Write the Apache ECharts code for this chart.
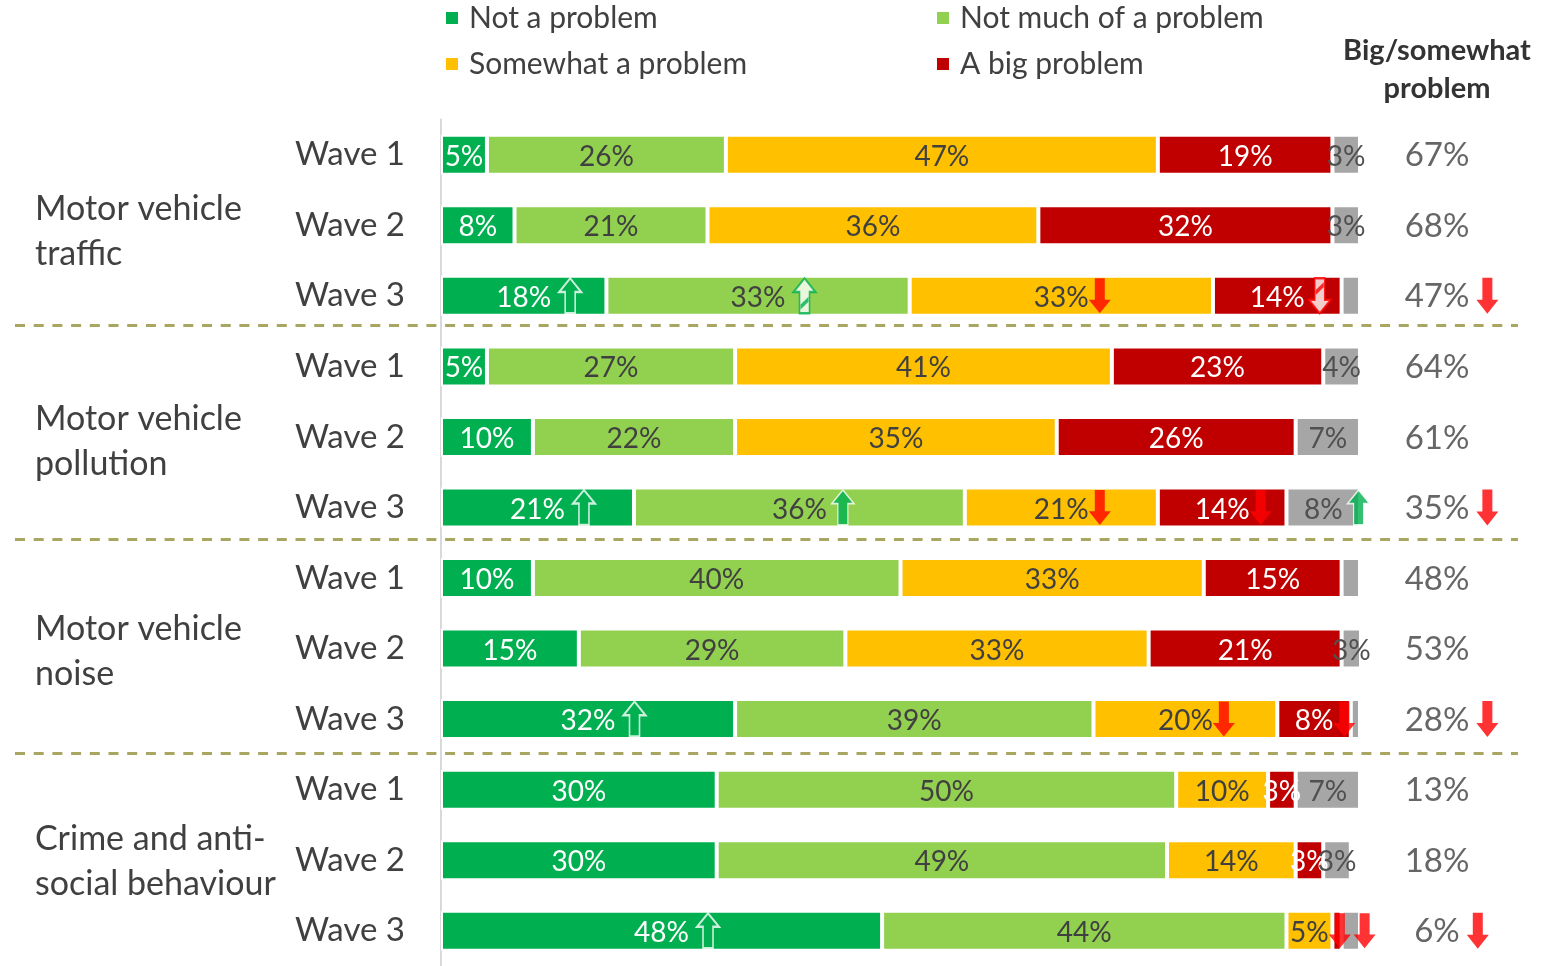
<!DOCTYPE html>
<html>
<head>
<meta charset="utf-8">
<title>Perceived problems by wave</title>
<script src="https://cdn.jsdelivr.net/npm/echarts@6/dist/echarts.min.js"></script>
<style>
  html, body { margin: 0; padding: 0; background: #fff; }
  #chart { width: 1544px; height: 966px; }
</style>
</head>
<body>
<div id="chart"></div>
<script>
// ---- data ---------------------------------------------------------------
const groups = ['Motor vehicle\ntraffic', 'Motor vehicle\npollution', 'Motor vehicle\nnoise', 'Crime and anti-\nsocial behaviour'];
const waves = ['Wave 1', 'Wave 2', 'Wave 3'];

// one entry per row: 3 waves for each group, top to bottom
const notAProblem   = [5, 8, 18,   5, 10, 21,   10, 15, 32,   30, 30, 48];
const notMuch       = [26, 21, 33, 27, 22, 36,  40, 29, 39,   50, 49, 44];
const somewhat      = [47, 36, 33, 41, 35, 21,  33, 33, 20,   10, 14, 5];
const bigProblem    = [19, 32, 14, 23, 26, 14,  15, 21, 8,    3, 3, 1];
const dontKnow      = [3, 3, 2,    4, 7, 8,     2, 3, 1,      7, 3, 2];
const bigOrSomewhat = [67, 68, 47, 64, 61, 35,  48, 53, 28,   13, 18, 6];

// significant changes at wave 3: [row, segment (0..4), marker kind]
const segmentChanges = [
  [2, 0, 'up'], [2, 1, 'upHatch'], [2, 2, 'down'], [2, 3, 'downHatch'],
  [5, 0, 'up'], [5, 1, 'upSolid'], [5, 2, 'down'], [5, 3, 'down'], [5, 4, 'upSolid'],
  [8, 0, 'up'], [8, 2, 'down'], [8, 3, 'down'],
  [11, 0, 'up'], [11, 2, 'down'], [11, 3, 'down']
];
const totalChanges = [null, null, 'down', null, null, 'down', null, null, 'down', null, null, 'down'];

const seriesNames = ['Not a problem', 'Not much of a problem', 'Somewhat a problem', 'A big problem', "Don't know"];
const segments = [notAProblem, notMuch, somewhat, bigProblem, dontKnow];

// ---- styling ------------------------------------------------------------
const FONT = 'Lato, "Liberation Sans", sans-serif';
const TEXT = '#404040';
const colors = ['#00B050', '#92D050', '#FFC000', '#C00000', '#A6A6A6'];
const labelColors = ['#ffffff', TEXT, TEXT, '#ffffff', '#505050'];
const BAR_LABEL_SIZE = 28;
const TOTAL_LABEL_SIZE = 33;

const GRID_LEFT = 441, GRID_TOP = 119.5, GRID_W = 919, GRID_H = 851;
const PX_PER_PCT = GRID_W / 100;

const rows = [];
groups.forEach(() => waves.forEach(w => rows.push(w)));

const measureCtx = document.createElement('canvas').getContext('2d');
function textWidth(str, size) {
  measureCtx.font = size + 'px ' + FONT;
  return measureCtx.measureText(str).width;
}

// block arrows drawn in a 22 x 36 box
const UP = 'path://M6,36L6,14L0,14L11,0L22,14L16,14L16,36Z';
const DOWN = 'path://M6,0L16,0L16,22L22,22L11,36L0,22L6,22Z';
// diagonal stripe laid over the shaft of a hatched arrow (same 22 x 36 box)
const UP_STRIPE = 'path://M0,0M22,36M7,27L15,19L15,24L7,32Z';
const DOWN_STRIPE = 'path://M0,0M22,36M7,12L15,4L15,9L7,17Z';
const ARROW_W = 22, ARROW_H = 35;
const arrowKinds = {
  up:        { symbol: UP,   gap: 8, itemStyle: { color: 'rgba(0,0,0,0)', borderColor: '#ffffff', borderWidth: 2 } },
  upHatch:   { symbol: UP,   gap: 8, itemStyle: { color: '#ffffff', borderColor: '#00B050', borderWidth: 2 },
               stripe: { symbol: UP_STRIPE, color: '#00B050' } },
  upSolid:   { symbol: UP,   gap: 5, itemStyle: { color: '#00B050', borderColor: '#ffffff', borderWidth: 1.5 } },
  down:      { symbol: DOWN, gap: 0, itemStyle: { color: '#FF0000' } },
  downHatch: { symbol: DOWN, gap: 4, itemStyle: { color: '#ffffff', borderColor: '#FF0000', borderWidth: 2 },
               stripe: { symbol: DOWN_STRIPE, color: '#FF0000' } }
};

const showLabel = v => v >= 3;

// arrow markers placed just right of each segment's label
const segmentArrows = [];
segmentChanges.forEach(([row, seg, kind]) => {
  let start = 0;
  for (let k = 0; k < seg; k++) start += segments[k][row];
  const v = segments[seg][row];
  const center = start + v / 2;
  const k = arrowKinds[kind];
  let dx;
  if (showLabel(v)) {
    dx = textWidth(v + '%', BAR_LABEL_SIZE) / 2 + k.gap + ARROW_W / 2;
  } else {
    dx = (v / 2) * PX_PER_PCT + 12 + ARROW_W / 2;
  }
  segmentArrows.push({
    value: [center, row],
    symbol: k.symbol,
    symbolSize: [ARROW_W, ARROW_H],
    symbolOffset: [dx, 0],
    itemStyle: k.itemStyle,
    z2: 1
  });
  if (k.stripe) {
    segmentArrows.push({
      value: [center, row],
      symbol: k.stripe.symbol,
      symbolSize: [ARROW_W, ARROW_H],
      symbolOffset: [dx, 0],
      itemStyle: { color: k.stripe.color, borderWidth: 0 },
      z2: 2
    });
  }
});

const totalArrows = [];
totalChanges.forEach((kind, row) => {
  if (!kind) return;
  const k = arrowKinds[kind];
  totalArrows.push({
    value: [0.5, row],
    symbol: k.symbol,
    symbolSize: [22, 36],
    symbolOffset: [textWidth(bigOrSomewhat[row] + '%', TOTAL_LABEL_SIZE) / 2 + 7 + 11, 0],
    itemStyle: k.itemStyle
  });
});

const barSeries = segments.map((vals, i) => ({
  name: seriesNames[i],
  type: 'bar',
  stack: 'share',
  xAxisIndex: 0,
  yAxisIndex: 0,
  barWidth: 40,
  data: vals,
  itemStyle: { color: colors[i], borderColor: '#ffffff', borderWidth: 2 },
  label: {
    show: true,
    position: 'inside',
    offset: [0, 2],
    formatter: p => showLabel(p.value) ? p.value + '%' : '',
    color: labelColors[i],
    fontFamily: FONT,
    fontSize: BAR_LABEL_SIZE
  },
  emphasis: { disabled: true }
}));

function legendAt(name, left, top) {
  return {
    data: [name],
    left: left, top: top,
    padding: 0,
    icon: 'rect',
    itemWidth: 12, itemHeight: 12,
    itemStyle: { borderWidth: 0 },
    selectedMode: false,
    textStyle: { color: TEXT, fontFamily: FONT, fontSize: 30, lineHeight: 36, padding: [0, 0, 0, 6] }
  };
}

const option = {
  animation: false,
  backgroundColor: '#ffffff',
  textStyle: { fontFamily: FONT },
  legend: [
    legendAt(seriesNames[0], 446, 0),
    legendAt(seriesNames[1], 937, 0),
    legendAt(seriesNames[2], 446, 46),
    legendAt(seriesNames[3], 937, 46)
  ],
  graphic: [{
    type: 'text',
    x: 1437, y: 32,
    style: {
      text: 'Big/somewhat\nproblem',
      textAlign: 'center',
      fill: '#333333',
      font: 'bold 29px ' + FONT,
      lineHeight: 38
    }
  }],
  grid: [
    { left: GRID_LEFT, top: GRID_TOP, width: GRID_W, height: GRID_H },
    { left: 1330, top: GRID_TOP, width: 214, height: GRID_H },
    { left: 15, top: 325, width: 1503, height: 428 },
    { left: GRID_LEFT, top: GRID_TOP + 7, width: GRID_W, height: GRID_H }
  ],
  xAxis: [
    { gridIndex: 0, type: 'value', min: 0, max: 100, show: false },
    { gridIndex: 1, type: 'value', min: 0, max: 1, show: false },
    { gridIndex: 2, type: 'value', min: 0, max: 1, show: false },
    { gridIndex: 3, type: 'value', min: 0, max: 1, show: false }
  ],
  yAxis: [
    {
      gridIndex: 0, type: 'category', data: rows, inverse: true,
      axisLine: { show: true, lineStyle: { color: '#D9D9D9', width: 2 } },
      axisTick: { show: false },
      axisLabel: { color: TEXT, fontFamily: FONT, fontSize: 33, margin: 36, padding: [2, 0, 0, 0] }
    },
    {
      gridIndex: 1, type: 'category', data: rows, inverse: true, show: false
    },
    {
      // group separators between the blocks of three waves
      gridIndex: 2, type: 'value', min: waves.length, max: 3 * waves.length, interval: waves.length,
      axisLine: { show: false }, axisTick: { show: false }, axisLabel: { show: false },
      splitLine: { show: true, lineStyle: { color: '#A9A661', width: 3, type: [10, 8.7] } }
    },
    {
      // group names, one per block of three waves
      gridIndex: 3, type: 'category', data: groups, inverse: true, position: 'left',
      axisLine: { show: false }, axisTick: { show: false }, splitLine: { show: false },
      axisLabel: {
        color: TEXT, fontFamily: FONT, fontSize: 34, lineHeight: 45,
        align: 'left', margin: GRID_LEFT - 35
      }
    }
  ],
  series: barSeries.concat([
    {
      name: 'segment changes',
      type: 'scatter',
      xAxisIndex: 0, yAxisIndex: 0,
      z: 10, silent: true,
      data: segmentArrows
    },
    {
      name: 'big or somewhat',
      type: 'scatter',
      xAxisIndex: 1, yAxisIndex: 1,
      symbolSize: 1,
      itemStyle: { color: 'rgba(0,0,0,0)' },
      silent: true,
      data: bigOrSomewhat.map((v, i) => [0.5, i]),
      label: {
        show: true, position: 'inside', offset: [0, 1],
        formatter: p => bigOrSomewhat[p.dataIndex] + '%',
        color: TEXT, fontFamily: FONT, fontSize: TOTAL_LABEL_SIZE
      }
    },
    {
      name: 'total changes',
      type: 'scatter',
      xAxisIndex: 1, yAxisIndex: 1,
      z: 10, silent: true,
      data: totalArrows
    }
  ])
};

const chart = echarts.init(document.getElementById('chart'), null, { renderer: 'canvas' });
chart.setOption(option);
</script>
</body>
</html>
